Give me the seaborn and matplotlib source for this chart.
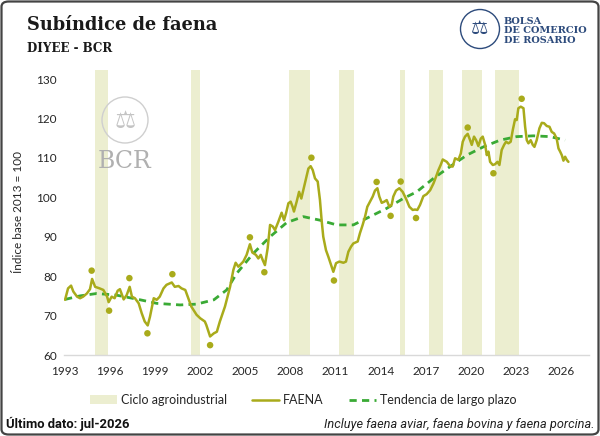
import matplotlib
matplotlib.use("Agg")
import matplotlib.pyplot as plt
from matplotlib.patches import FancyBboxPatch, Ellipse, Patch
from matplotlib.lines import Line2D
import seaborn as sns
import pandas as pd

# ---------------- data ----------------
faena_year = [1993.0, 1993.2, 1993.4, 1993.55, 1993.8, 1994.0, 1994.2, 1994.45, 1994.66, 1994.8,
              1995.0, 1995.3, 1995.55, 1995.8, 1995.9, 1996.1, 1996.3, 1996.5, 1996.65, 1996.9,
              1997.1, 1997.3, 1997.45, 1997.65, 1997.9, 1998.1, 1998.3, 1998.5, 1998.65, 1998.9,
              1999.1, 1999.3, 1999.55, 1999.75, 2000.1, 2000.3, 2000.55, 2000.75, 2001.0, 2001.2,
              2001.4, 2001.75, 2002.0, 2002.3, 2002.4, 2002.65, 2002.9, 2003.1, 2003.3,
              2003.64, 2003.98, 2004.2, 2004.35, 2004.53, 2004.86, 2005.08, 2005.3, 2005.46, 2005.7,
              2005.86, 2006.02, 2006.15, 2006.3, 2006.48, 2006.64, 2006.82, 2006.97, 2007.19, 2007.41,
              2007.57, 2007.7, 2007.86, 2008.01, 2008.14, 2008.23, 2008.41, 2008.57, 2008.72, 2008.85,
              2009.03, 2009.19, 2009.34, 2009.48, 2009.63, 2009.81, 2009.96, 2010.07, 2010.18, 2010.36,
              2010.52, 2010.7, 2010.85, 2011.03, 2011.25, 2011.52, 2011.69, 2011.85, 2012.03, 2012.18,
              2012.47, 2012.62, 2012.8, 2012.96, 2013.11, 2013.29, 2013.47, 2013.62, 2013.78, 2013.91,
              2014.07, 2014.24, 2014.4, 2014.58, 2014.73, 2014.84, 2015.02, 2015.24, 2015.46, 2015.68,
              2015.91, 2016.13, 2016.28, 2016.44, 2016.62,
              2016.84, 2017.06, 2017.29, 2017.51, 2017.68, 2017.84, 2017.99, 2018.13, 2018.4, 2018.62,
              2018.79, 2018.95, 2019.17, 2019.33, 2019.46, 2019.61, 2019.79, 2019.95, 2020.06, 2020.21,
              2020.35, 2020.5, 2020.66, 2020.79, 2020.95, 2021.06, 2021.17, 2021.28, 2021.46, 2021.61,
              2021.77, 2021.9, 2022.05, 2022.21, 2022.34, 2022.5, 2022.65, 2022.79, 2022.94, 2023.05,
              2023.16, 2023.32, 2023.5, 2023.61, 2023.72, 2023.83, 2023.98, 2024.12, 2024.23, 2024.38,
              2024.56, 2024.72, 2024.87, 2025.05, 2025.23, 2025.38, 2025.54, 2025.71, 2025.83, 2025.94,
              2026.05, 2026.16, 2026.27, 2026.38, 2026.49]
faena_value = [74.0, 76.9, 77.6, 76.1, 74.8, 74.4, 74.8, 75.6, 76.7, 79.3,
               77.3, 76.9, 76.5, 74.8, 73.4, 74.8, 74.4, 76.3, 76.7, 74.1,
               75.2, 77.3, 74.8, 74.4, 73.1, 70.6, 68.5, 67.5, 69.7, 74.4,
               74.0, 74.8, 76.9, 77.8, 78.4, 77.3, 77.5, 76.9, 76.5, 74.4,
               72.3, 70.2, 69.3, 68.5, 67.6, 64.7, 65.5, 65.9, 68.5,
               72.3, 77.3, 81.6, 83.4, 82.4, 83.7, 85.4, 88.1, 86.0, 85.4,
               84.5, 85.4, 84.1, 82.8, 87.1, 93.0, 92.6, 91.7, 93.8, 96.1,
               94.2, 95.9, 98.5, 98.9, 97.6, 96.4, 98.9, 101.4, 99.7, 101.8,
               104.8, 107.3, 107.9, 106.9, 104.8, 104.0, 99.3, 94.2, 90.0, 86.6,
               84.9, 82.8, 81.1, 83.3, 83.7, 83.4, 83.7, 86.2, 87.5, 88.3,
               88.8, 90.9, 93.0, 95.1, 97.6, 98.9, 100.2, 101.7, 102.3, 100.2,
               98.6, 98.9, 99.3, 97.6, 98.1, 100.2, 101.7, 102.3, 101.4, 99.7,
               97.6, 96.8, 96.9, 96.8, 98.1,
               100.3, 100.8, 101.8, 103.5, 105.2, 106.9, 108.2, 109.6, 109.0, 107.9,
               107.8, 109.9, 109.5, 111.1, 114.1, 115.4, 116.1, 114.5, 113.3, 115.4,
               114.5, 113.0, 114.9, 115.4, 113.3, 110.7, 111.6, 109.0, 108.2, 108.4,
               109.0, 108.2, 112.0, 113.3, 114.1, 113.7, 114.1, 117.1, 119.8, 119.6,
               122.6, 123.0, 122.6, 117.9, 114.5, 113.7, 114.5, 113.3, 112.8, 114.5,
               117.5, 118.9, 118.8, 118.1, 117.9, 116.6, 116.2, 114.9, 112.4, 111.6,
               110.7, 109.3, 110.3, 109.5, 109.0]

extreme_year = [1994.77, 1995.93, 1997.28, 1998.48, 2000.14, 2002.65, 2005.3, 2006.26, 2009.39,
                2010.89, 2013.73, 2014.66, 2015.33, 2016.35, 2019.79, 2021.5, 2023.38]
extreme_value = [81.4, 71.25, 79.5, 65.5, 80.5, 62.5, 89.85, 81.0, 110.05,
                 78.9, 103.9, 95.3, 104.0, 94.75, 117.7, 106.1, 125.0]

trend_year = [1993.0, 1994.0, 1995.1, 1996.4, 1998.0, 1999.1, 2000.65, 2001.75, 2002.9, 2003.75,
              2004.42, 2005.53, 2006.64, 2007.75, 2008.85, 2009.96, 2011.07, 2012.18, 2013.29, 2014.4,
              2015.5, 2016.4, 2017.51, 2018.62, 2019.73, 2020.83, 2021.94, 2023.05, 2024.16, 2025.27,
              2026.27]
trend_value = [74.1, 75.0, 75.6, 75.2, 74.0, 73.1, 72.7, 72.9, 74.0, 76.5,
               80.7, 85.8, 90.0, 93.6, 95.1, 94.2, 93.0, 93.0, 95.1, 97.2,
               99.7, 101.4, 104.8, 107.8, 110.7, 112.8, 114.5, 115.4, 115.6, 115.4,
               114.5]

cycle_start = [1995.0, 2001.36, 2007.9, 2011.23, 2015.29, 2017.24, 2019.43, 2021.6]
cycle_end = [1995.85, 2001.98, 2009.27, 2012.23, 2015.64, 2018.15, 2020.74, 2023.23]

x_ticks = [1993, 1996, 1999, 2002, 2005, 2008, 2011, 2014, 2017, 2020, 2023, 2026]
y_ticks = [60, 70, 80, 90, 100, 110, 120, 130]

# ---------------- style ----------------
sns.set_theme(style="white")
plt.rcParams['font.family'] = ['Lato', 'DejaVu Sans']

OLIVE = "#a9ab1b"
BAND = "#eceed0"
GREEN = "#3aaa35"
TXT = "#262626"
W, H = 600.0, 436.0

fig = plt.figure(figsize=(6.0, 4.36), dpi=100)
ax = fig.add_axes([64/W, 81/H, 525/W, 285/H])

for s, e in zip(cycle_start, cycle_end):
    ax.axvspan(s, e, color=BAND, lw=0, zorder=0)

df_f = pd.DataFrame({"year": faena_year, "value": faena_value})
df_t = pd.DataFrame({"year": trend_year, "value": trend_value})
df_e = pd.DataFrame({"year": extreme_year, "value": extreme_value})

sns.lineplot(data=df_t, x="year", y="value", ax=ax, color=GREEN, lw=2.0,
             zorder=2, estimator=None, sort=False)
ax.lines[-1].set_dashes([2.6, 1.9])
sns.lineplot(data=df_f, x="year", y="value", ax=ax, color=OLIVE, lw=1.8,
             zorder=3, estimator=None, sort=False)
sns.scatterplot(data=df_e, x="year", y="value", ax=ax, color=OLIVE, s=22,
                edgecolor="none", zorder=4)

ax.set_xlim(1992.93, 2027.86)
ax.set_ylim(60, 132.3)
ax.set_xticks(x_ticks)
ax.set_xticklabels([str(t) for t in x_ticks])
ax.set_yticks(y_ticks)
ax.tick_params(axis='both', length=0, labelsize=8.5, colors=TXT, pad=5)
ax.tick_params(axis='x', pad=8)
for side in ["left", "right", "top"]:
    ax.spines[side].set_visible(False)
ax.spines["bottom"].set_color("#d9d9d9")
ax.spines["bottom"].set_linewidth(1.0)
ax.set_xlabel("")
ax.set_ylabel("")
ax.patch.set_alpha(0)
ax.grid(False)

fig.text(19/W, 1 - 212/H, "Índice base 2013 = 100", rotation=90, ha="center", va="center",
         fontsize=8.5, color=TXT)

# BCR watermark in plot (above the bands)
WM = "#bdbdbd"
fig.patches.append(Ellipse((125/W, 1 - 120/H), 46/W, 46/H, transform=fig.transFigure,
                           fill=False, ec="#cfcfcf", lw=1.0, zorder=1))
fig.text(125/W, 1 - 121/H, "⚖", ha="center", va="center", fontsize=17, color="#c4c4c4",
         family=['DejaVu Sans'], zorder=1)
fig.text(125/W, 1 - 161/H, "BCR", ha="center", va="center", fontsize=17, color="#b0b0b0",
         family=['DejaVu Serif'], zorder=1)

# title and subtitle
fig.text(27/W, 1 - 25/H, "Subíndice de faena", ha="left", va="center", fontsize=12.8,
         fontweight="bold", color="#1a1a1a", family=['DejaVu Serif'])
fig.text(27/W, 1 - 48/H, "DIYEE - BCR", ha="left", va="center", fontsize=8.6,
         fontweight="bold", color="#1a1a1a", family=['DejaVu Serif'])

# logo top-right
BLUE = "#2d4b7c"
fig.patches.append(Ellipse((480/W, 1 - 29/H), 39/W, 39/H, transform=fig.transFigure,
                           fill=False, ec=BLUE, lw=1.0))
fig.text(480/W, 1 - 29/H, "⚖", ha="center", va="center", fontsize=14, color=BLUE,
         family=['DejaVu Sans'])
for i, line in enumerate(["BOLSA", "DE COMERCIO", "DE ROSARIO"]):
    fig.text(504/W, 1 - (21 + i * 9.8)/H, line, ha="left", va="center", fontsize=7.0,
             color=BLUE, family=['DejaVu Serif'], fontweight="bold")

# legend
handles = [Patch(facecolor=BAND, edgecolor="none"),
           Line2D([0], [0], color=OLIVE, lw=1.8),
           Line2D([0], [0], color=GREEN, lw=2.0, dashes=[2.6, 1.9])]
labels = ["Ciclo agroindustrial", "FAENA", "Tendencia de largo plazo"]
fig.legend(handles, labels, loc="center", bbox_to_anchor=(303/W, 1 - 400/H), ncol=3,
           frameon=False, fontsize=9, handlelength=2.2, handletextpad=0.3, columnspacing=2.0,
           labelcolor=TXT)

# footer
fig.text(6/W, 1 - 424/H, "Último dato: jul-2026", ha="left", va="center", fontsize=9.4,
         fontweight="bold", color="#111111", family=['Roboto', 'DejaVu Sans'])
fig.text(595/W, 1 - 424/H, "Incluye faena aviar, faena bovina y faena porcina.", ha="right",
         va="center", fontsize=9.2, style="italic", color="#222222", family=['Roboto', 'DejaVu Sans'])

# rounded frame
frame = FancyBboxPatch((1.5/W, 1.5/H), 597/W, 433/H,
                       boxstyle="round,pad=0,rounding_size=0.012", transform=fig.transFigure,
                       fill=False, ec="#444444", lw=1.6, zorder=10)
fig.patches.append(frame)

fig.savefig("out.png", dpi=100)
